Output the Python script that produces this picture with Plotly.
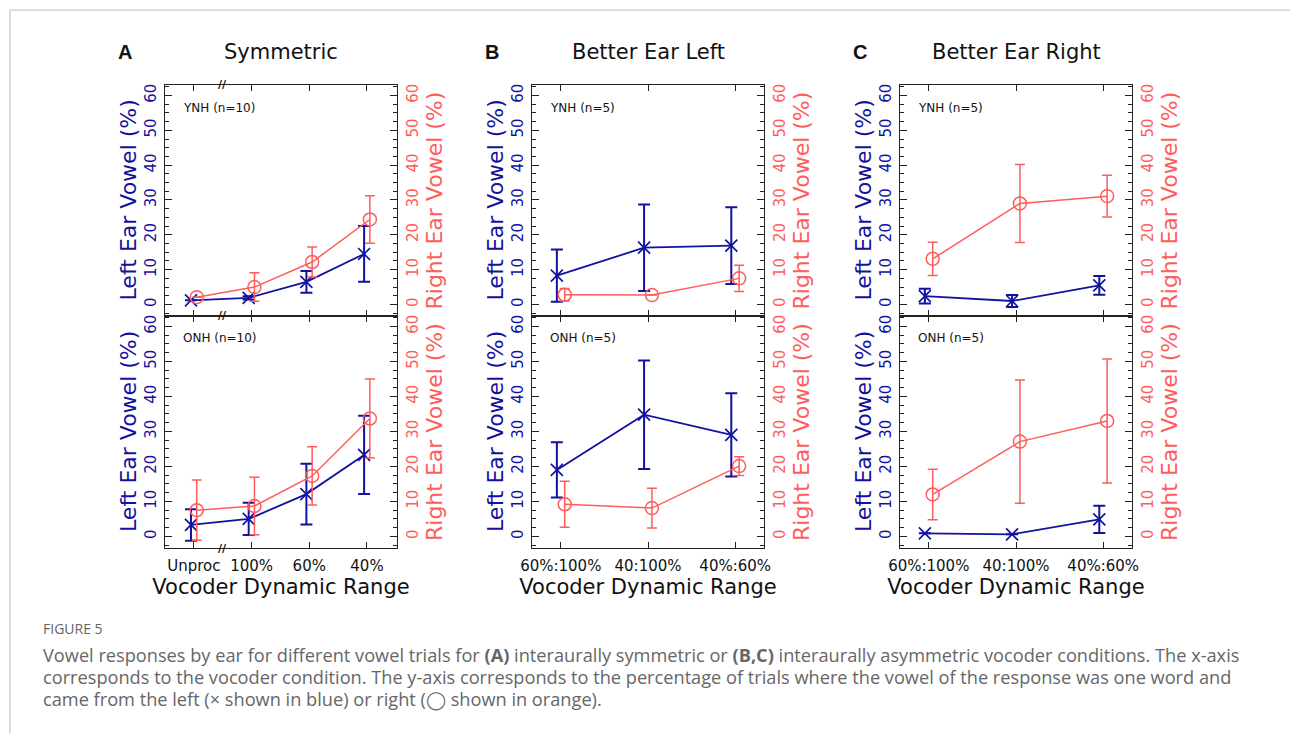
import plotly.graph_objects as go
import numpy as np

# ---------------- data ----------------
sym_cats = ["Unproc", "100%", "60%", "40%"]
asym_cats = ["60%:100%", "40:100%", "40%:60%"]

panel_titles = ["Symmetric", "Better Ear Left", "Better Ear Right"]
panel_letters = ["A", "B", "C"]
group_labels_top = ["YNH (n=10)", "YNH (n=5)", "YNH (n=5)"]
group_labels_bot = ["ONH (n=10)", "ONH (n=5)", "ONH (n=5)"]

# Panel A (Symmetric)
a_ynh_left = [1.2, 1.9, 6.5, 14.5]
a_ynh_left_err = [0.0, 0.5, 3.1, 8.0]
a_ynh_right = [2.1, 5.0, 12.2, 24.4]
a_ynh_right_err = [0.0, 4.1, 4.3, 6.8]
a_onh_left = [3.3, 5.0, 12.1, 23.3]
a_onh_left_err = [4.5, 4.6, 8.7, 11.2]
a_onh_right = [7.5, 8.7, 17.3, 33.7]
a_onh_right_err = [8.6, 8.2, 8.3, 11.3]

# Panel B (Better Ear Left)
b_ynh_left = [8.3, 16.3, 16.9]
b_ynh_left_err = [7.5, 12.4, 11.0]
b_ynh_right = [2.8, 2.7, 7.5]
b_ynh_right_err = [1.8, 0.0, 3.8]
b_onh_left = [19.0, 34.8, 29.0]
b_onh_left_err = [7.9, 15.5, 11.9]
b_onh_right = [9.2, 8.1, 20.1]
b_onh_right_err = [6.6, 5.7, 2.7]

# Panel C (Better Ear Right)
c_ynh_left = [2.4, 1.0, 5.5]
c_ynh_left_err = [2.1, 1.7, 2.7]
c_ynh_right = [13.1, 29.0, 31.1]
c_ynh_right_err = [4.8, 11.2, 6.0]
c_onh_left = [0.9, 0.6, 4.9]
c_onh_left_err = [0.0, 0.0, 3.9]
c_onh_right = [12.0, 27.1, 33.0]
c_onh_right_err = [7.2, 17.6, 17.7]

left_title = "Left Ear Vowel (%)"
right_title = "Right Ear Vowel (%)"
x_title = "Vocoder Dynamic Range"

caption_head = "FIGURE 5"
caption_lines = [
    "Vowel responses by ear for different vowel trials for <b>(A)</b> interaurally symmetric or <b>(B,C)</b> interaurally asymmetric vocoder conditions. The x-axis",
    "corresponds to the vocoder condition. The y-axis corresponds to the percentage of trials where the vowel of the response was one word and",
    "came from the left (\u00d7 shown in blue) or right (\u25ef shown in orange).",
]

# ---------------- style ----------------
W, H = 1290, 734
BLUE = "#1212a0"
RED = "#ff5c5c"
AX = "#222222"
FONT = "DejaVu Sans"

def px_x(p):
    return p / W

def px_y(p):
    return 1 - p / H

x_dom_px = [(165, 397), (532, 764), (900, 1132)]
y_dom_px = [(85, 316), (316, 548)]

panels = [
    (sym_cats, [(a_ynh_left, a_ynh_left_err, a_ynh_right, a_ynh_right_err),
                (a_onh_left, a_onh_left_err, a_onh_right, a_onh_right_err)]),
    (asym_cats, [(b_ynh_left, b_ynh_left_err, b_ynh_right, b_ynh_right_err),
                 (b_onh_left, b_onh_left_err, b_onh_right, b_onh_right_err)]),
    (asym_cats, [(c_ynh_left, c_ynh_left_err, c_ynh_right, c_ynh_right_err),
                 (c_onh_left, c_onh_left_err, c_onh_right, c_onh_right_err)]),
]

fig = go.Figure()
layout = {}
annotations = []
YR = [-3.3, 63]

for c, (cats, rows) in enumerate(panels):
    n = len(cats)
    pos = np.arange(n)
    off = 0.05 if n == 4 else 0.045
    xr = [-0.5, n - 0.48] if n == 4 else [-0.33, n - 0.67]
    for r, (lv, le, rv, re) in enumerate(rows):
        k = r * 3 + c + 1
        kr = k + 6
        xa = "x" if k == 1 else f"x{k}"
        ya = "y" if k == 1 else f"y{k}"
        yb = f"y{kr}"
        fig.add_trace(go.Scatter(
            x=pos - off, y=lv, xaxis=xa, yaxis=ya, mode="lines+markers",
            line=dict(color=BLUE, width=1.8),
            marker=dict(symbol="x-thin", size=12, color=BLUE,
                        line=dict(color=BLUE, width=1.7)),
            error_y=dict(type="data", array=le, color=BLUE, thickness=2, width=6),
            showlegend=False))
        fig.add_trace(go.Scatter(
            x=pos + off, y=rv, xaxis=xa, yaxis=yb, mode="lines+markers",
            line=dict(color=RED, width=1.5),
            marker=dict(symbol="circle-open", size=13, color=RED,
                        line=dict(width=1.5)),
            error_y=dict(type="data", array=re, color=RED, thickness=1.5, width=5),
            showlegend=False))

        xd = [px_x(x_dom_px[c][0]), px_x(x_dom_px[c][1])]
        yd = [px_y(y_dom_px[r][1]), px_y(y_dom_px[r][0])]
        xkey = "xaxis" if k == 1 else f"xaxis{k}"
        ykey = "yaxis" if k == 1 else f"yaxis{k}"
        layout[xkey] = dict(
            domain=xd, anchor=ya, range=xr, tickvals=list(pos), ticktext=cats,
            showticklabels=(r == 1), ticks="inside", ticklen=6, tickwidth=1.2,
            tickcolor=AX, showline=True, linecolor=AX, linewidth=1.2,
            mirror="ticks", showgrid=False, zeroline=False, automargin=False,
            tickfont=dict(size=15, color="#111"), ticklabelstandoff=4,
            title=dict(text=x_title if r == 1 else "",
                       font=dict(size=21, color="#111"), standoff=4),
        )
        common_y = dict(
            domain=yd, anchor=xa, range=YR, dtick=10, tick0=0,
            ticks="inside", ticklen=7, tickwidth=1.2, tickcolor=AX,
            minor=dict(dtick=2.5, ticklen=4, ticks="inside", tickcolor=AX, tickwidth=1),
            showline=True, linecolor=AX, linewidth=1.2, showgrid=False,
            zeroline=False, tickangle=-90, ticklabelstandoff=2, automargin=False,
        )
        layout[ykey] = dict(common_y, side="left", tickfont=dict(size=15, color=BLUE))
        layout[f"yaxis{kr}"] = dict(common_y, side="right", overlaying=ya,
                                    tickfont=dict(size=15, color=RED))

        ymid = px_y((y_dom_px[r][0] + y_dom_px[r][1]) / 2)
        annotations.append(dict(
            text=left_title, x=px_x(x_dom_px[c][0] - 37), y=ymid,
            xref="paper", yref="paper", xanchor="center", yanchor="middle",
            textangle=-90, showarrow=False, font=dict(size=22, color=BLUE)))
        annotations.append(dict(
            text=right_title, x=px_x(x_dom_px[c][1] + 37), y=ymid,
            xref="paper", yref="paper", xanchor="center", yanchor="middle",
            textangle=-90, showarrow=False, font=dict(size=22, color=RED)))

        glabel = group_labels_top[c] if r == 0 else group_labels_bot[c]
        annotations.append(dict(
            text=glabel, x=px_x(x_dom_px[c][0] + 16), y=px_y(108 if r == 0 else 338),
            xref="paper", yref="paper", xanchor="left", yanchor="middle",
            showarrow=False, font=dict(size=12, color="#111")))

    # panel titles
    cx = (x_dom_px[c][0] + x_dom_px[c][1]) / 2
    annotations.append(dict(
        text=panel_titles[c], x=px_x(cx), y=px_y(52), xref="paper", yref="paper",
        xanchor="center", yanchor="middle", showarrow=False,
        font=dict(size=21, color="#111")))
    annotations.append(dict(
        text=f"<b>{panel_letters[c]}</b>", x=px_x(x_dom_px[c][0] - 40), y=px_y(52),
        xref="paper", yref="paper", xanchor="center", yanchor="middle",
        showarrow=False, font=dict(size=20, color="#111", family="Liberation Sans")))

# axis break marks in panel A (between Unproc and 100%)
for ypx in [85, 316, 548]:
    annotations.append(dict(
        text="<b>//</b>", x=0.5, y=px_y(ypx), xref="x", yref="paper",
        xanchor="center", yanchor="middle", showarrow=False,
        font=dict(size=11, color="#111")))

# caption
annotations.append(dict(
    text=caption_head, x=px_x(41), y=px_y(628), xref="paper", yref="paper",
    xanchor="left", yanchor="middle", showarrow=False,
    font=dict(size=14, color="#666", family="Open Sans")))
for i, line in enumerate(caption_lines):
    annotations.append(dict(
        text=line, x=px_x(41), y=px_y(655 + 22 * i), xref="paper", yref="paper",
        xanchor="left", yanchor="middle", showarrow=False,
        font=dict(size=18.2, color="#666", family="Open Sans")))

shapes = [
    dict(type="line", xref="paper", yref="paper", x0=px_x(10), x1=1, y0=px_y(10), y1=px_y(10),
         line=dict(color="#bbbbbb", width=1)),
    dict(type="line", xref="paper", yref="paper", x0=px_x(10), x1=px_x(10), y0=0, y1=px_y(10),
         line=dict(color="#bbbbbb", width=1)),
]

fig.update_layout(
    width=W, height=H, margin=dict(l=0, r=0, t=0, b=0, autoexpand=False),
    paper_bgcolor="white", plot_bgcolor="white",
    font=dict(family=FONT, color="#111"),
    annotations=annotations, shapes=shapes, **layout)

fig.write_html("out.html", config={"displayModeBar": False},
               post_script="document.body.style.margin='0';")
